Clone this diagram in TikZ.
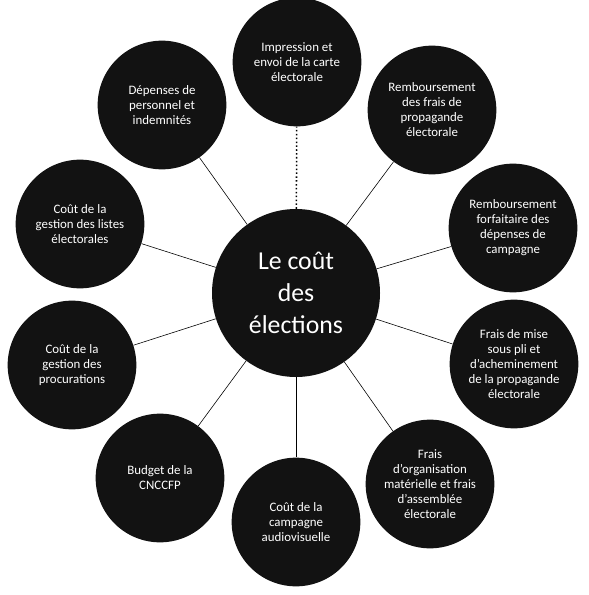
\documentclass[tikz,border=0pt]{standalone}
\usepackage{fontspec}
\setmainfont{Carlito}
\usepackage{tikz}
\usetikzlibrary{calc}

\begin{document}
\begin{tikzpicture}[x=0.03cm,y=-0.03cm,
		bulle/.style={circle, fill=black!93, text=white, align=center, inner sep=0pt,
			minimum size=3.86cm, font=\fontsize{11}{12.8}\selectfont},
		centre/.style={bulle, minimum size=5.04cm, font=\fontsize{22}{27}\selectfont},
		lien/.style={draw=black, line width=0.5pt}]
		\useasboundingbox (0,0) rectangle (588,595);
		
		% Nodes
		\node[centre] (C) at (296,293) {Le coût\\des\\élections};
		\node[bulle] (A1) at (297,62) {Impression et\\envoi de la carte\\électorale};
		\node[bulle] (A2) at (432,110) {Remboursement\\des frais de\\propagande\\électorale};
		\node[bulle] (A3) at (513,228) {Remboursement\\forfaitaire des\\dépenses de\\campagne};
		\node[bulle] (A4) at (514,364) {Frais de mise\\sous pli et\\d’acheminement\\de la propagande\\électorale};
		\node[bulle] (A5) at (430,484) {Frais\\d’organisation\\matérielle et frais\\d’assemblée\\électorale};
		\node[bulle] (A6) at (296,522) {Coût de la\\campagne\\audiovisuelle};
		\node[bulle] (A7) at (160,478) {Budget de la\\CNCCFP};
		\node[bulle] (A8) at (72,365) {Coût de la\\gestion des\\procurations};
		\node[bulle] (A9) at (80,224) {Coût de la\\gestion des listes\\électorales};
		\node[bulle] (A10) at (162,105) {Dépenses de\\personnel et\\indemnités};
		
		% Lines
		\draw[lien, line width=1.3pt, dotted] (C) -- (A1);
		\foreach \n in {2,...,10}
			\draw[lien] (C) -- (A\n);
	\end{tikzpicture}
\end{document}
